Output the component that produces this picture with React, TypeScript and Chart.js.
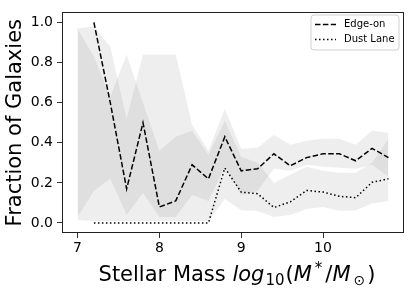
import React, { useEffect, useRef } from "react";
import { Chart, registerables } from "chart.js";

Chart.register(...registerables);

// ---- data ----
const lineX = [7.2, 7.4, 7.6, 7.8, 8.0, 8.2, 8.4, 8.6, 8.8, 9.0, 9.2, 9.4, 9.6, 9.8, 10.0, 10.2, 10.4, 10.6, 10.8];
const edgeOn = [1.0, 0.6, 0.17, 0.5, 0.08, 0.11, 0.29, 0.22, 0.43, 0.26, 0.27, 0.345, 0.285, 0.326, 0.345, 0.345, 0.31, 0.372, 0.326];
const dustLane = [0, 0, 0, 0, 0, 0, 0, 0, 0.274, 0.154, 0.146, 0.077, 0.105, 0.162, 0.154, 0.133, 0.126, 0.203, 0.22];

const bandX = [7.0, 7.2, 7.4, 7.6, 7.8, 8.0, 8.2, 8.4, 8.6, 8.8, 9.0, 9.2, 9.4, 9.6, 9.8, 10.0, 10.2, 10.4, 10.6, 10.8];
const edgeLower = [0.03, 0.16, 0.22, 0.04, 0.15, 0.03, 0.03, 0.14, 0.11, 0.28, 0.14, 0.16, 0.27, 0.26, 0.29, 0.28, 0.275, 0.27, 0.29, 0.23];
const edgeUpper = [0.97, 0.98, 0.88, 0.52, 0.84, 0.84, 0.84, 0.49, 0.36, 0.57, 0.37, 0.375, 0.44, 0.39, 0.41, 0.42, 0.42, 0.39, 0.46, 0.45];
const dustLower = [0.015, 0.01, 0.01, 0.01, 0.01, 0.01, 0.01, 0.01, 0.01, 0.12, 0.064, 0.06, 0.03, 0.04, 0.07, 0.08, 0.06, 0.064, 0.097, 0.11];
const dustUpper = [0.97, 0.83, 0.63, 0.84, 0.6, 0.36, 0.43, 0.46, 0.34, 0.51, 0.33, 0.3, 0.2, 0.24, 0.28, 0.26, 0.25, 0.25, 0.3, 0.42];

const xTicks = [7, 8, 9, 10];
const yTicks = [0.0, 0.2, 0.4, 0.6, 0.8, 1.0];
const seriesLabels = ["Edge-on", "Dust Lane"];
const yTitle = "Fraction of Galaxies";

const FONT = "'DejaVu Sans', sans-serif";
const BAND = "rgba(0,0,0,0.068)";
const EDGE_DASH = [5.5, 2.4];
const DUST_DASH = [1.5, 2.5];

const pts = (xs: number[], ys: number[]) => xs.map((x, i) => ({ x, y: ys[i] }));

const bandLine = (data: any, fill: any) => ({
  data,
  borderColor: "rgba(0,0,0,0)",
  borderWidth: 0,
  backgroundColor: BAND,
  pointRadius: 0,
  fill,
});

const decorPlugin = {
  id: "decor",
  afterDraw(chart: any) {
    const { ctx, chartArea: ca } = chart;
    ctx.save();
    // frame
    ctx.strokeStyle = "#222";
    ctx.lineWidth = 1;
    ctx.setLineDash([]);
    ctx.strokeRect(Math.round(ca.left) + 0.5, Math.round(ca.top) + 0.5, Math.round(ca.right - ca.left) - 1, Math.round(ca.bottom - ca.top) - 1);

    // legend
    const bx = 311, by = 15, bw = 88, bh = 35, r = 3;
    ctx.beginPath();
    ctx.moveTo(bx + r, by);
    ctx.lineTo(bx + bw - r, by);
    ctx.quadraticCurveTo(bx + bw, by, bx + bw, by + r);
    ctx.lineTo(bx + bw, by + bh - r);
    ctx.quadraticCurveTo(bx + bw, by + bh, bx + bw - r, by + bh);
    ctx.lineTo(bx + r, by + bh);
    ctx.quadraticCurveTo(bx, by + bh, bx, by + bh - r);
    ctx.lineTo(bx, by + r);
    ctx.quadraticCurveTo(bx, by, bx + r, by);
    ctx.closePath();
    ctx.fillStyle = "rgba(255,255,255,0.8)";
    ctx.fill();
    ctx.strokeStyle = "#d0d0d0";
    ctx.stroke();

    const rows = [
      { y: 24.5, dash: EDGE_DASH, label: seriesLabels[0] },
      { y: 39.5, dash: DUST_DASH, label: seriesLabels[1] },
    ];
    rows.forEach((row) => {
      ctx.beginPath();
      ctx.setLineDash(row.dash);
      ctx.strokeStyle = "#000";
      ctx.lineWidth = 1.5;
      ctx.moveTo(315, row.y);
      ctx.lineTo(336, row.y);
      ctx.stroke();
      ctx.setLineDash([]);
      ctx.fillStyle = "#000";
      ctx.font = `10px ${FONT}`;
      ctx.textAlign = "left";
      ctx.textBaseline = "middle";
      ctx.fillText(row.label, 344, row.y);
    });

    // y title
    ctx.save();
    ctx.translate(16, (ca.top + ca.bottom) / 2);
    ctx.rotate(-Math.PI / 2);
    ctx.font = `21px ${FONT}`;
    ctx.textAlign = "center";
    ctx.textBaseline = "middle";
    ctx.fillStyle = "#000";
    ctx.fillText(yTitle, 0, 0);
    ctx.restore();

    // x title with math
    const segs = [
      { t: "Stellar Mass ", st: "", sz: 21, dy: 0, kern: 0 },
      { t: "log", st: "italic ", sz: 21, dy: 0, kern: 1 },
      { t: "10", st: "", sz: 15, dy: 4, kern: 1 },
      { t: "(", st: "", sz: 21, dy: 0, kern: 0 },
      { t: "M", st: "italic ", sz: 21, dy: 0, kern: 3 },
      { t: "*", st: "", sz: 15, dy: -8, kern: 3 },
      { t: "/", st: "", sz: 21, dy: 0, kern: 0 },
      { t: "M", st: "italic ", sz: 21, dy: 0, kern: 3 },
      { t: "\u2299", st: "", sz: 14, dy: 4, kern: 2 },
      { t: ")", st: "", sz: 21, dy: 0, kern: 0 },
    ];
    let total = 0;
    const widths = segs.map((s) => {
      ctx.font = `${s.st}${s.sz}px ${FONT}`;
      const w = ctx.measureText(s.t).width + s.kern;
      total += w;
      return w;
    });
    let x = 237 - total / 2;
    ctx.textAlign = "left";
    ctx.textBaseline = "alphabetic";
    segs.forEach((s, i) => {
      ctx.font = `${s.st}${s.sz}px ${FONT}`;
      ctx.fillText(s.t, x, 281 + s.dy);
      x += widths[i];
    });
    ctx.restore();
  },
};

export default function App() {
  const ref = useRef<HTMLCanvasElement>(null);
  useEffect(() => {
    if (!ref.current) return;
    const chart = new Chart(ref.current, {
      type: "line",
      data: {
        datasets: [
          bandLine(pts(bandX, edgeLower), false),
          bandLine(pts(bandX, edgeUpper), "-1"),
          bandLine(pts(bandX, dustLower), false),
          bandLine(pts(bandX, dustUpper), "-1"),
          {
            label: seriesLabels[0],
            data: pts(lineX, edgeOn),
            borderColor: "#000",
            borderWidth: 1.5,
            borderDash: EDGE_DASH,
            pointRadius: 0,
            fill: false,
          },
          {
            label: seriesLabels[1],
            data: pts(lineX, dustLane),
            borderColor: "#000",
            borderWidth: 1.5,
            borderDash: DUST_DASH,
            pointRadius: 0,
            fill: false,
          },
        ] as any,
      },
      options: {
        responsive: false,
        animation: false,
        events: [],
        layout: { padding: { left: 0, top: 10, right: 11, bottom: 0 } },
        plugins: {
          legend: { display: false },
          tooltip: { enabled: false },
          filler: { drawTime: "beforeDatasetsDraw" },
        } as any,
        scales: {
          x: {
            type: "linear",
            min: 6.81,
            max: 10.99,
            afterBuildTicks: (s: any) => {
              s.ticks = xTicks.map((v) => ({ value: v }));
            },
            afterFit: (s: any) => {
              s.height = 58;
            },
            grid: { drawOnChartArea: false, drawTicks: true, tickLength: 5, color: "#333", lineWidth: 1 },
            border: { display: false },
            ticks: {
              font: { family: FONT, size: 14 },
              color: "#000",
              padding: 2,
              maxRotation: 0,
              callback: (v: any) => String(v),
            },
          },
          y: {
            type: "linear",
            min: -0.05,
            max: 1.05,
            afterBuildTicks: (s: any) => {
              s.ticks = yTicks.map((v) => ({ value: v }));
            },
            afterFit: (s: any) => {
              s.width = 62;
            },
            grid: { drawOnChartArea: false, drawTicks: true, tickLength: 5, color: "#333", lineWidth: 1 },
            border: { display: false },
            ticks: {
              font: { family: FONT, size: 14 },
              color: "#000",
              padding: 4,
              callback: (v: any) => Number(v).toFixed(1),
            },
          },
        },
      },
      plugins: [decorPlugin],
    });
    return () => chart.destroy();
  }, []);
  return (
    <div style={{ position: "fixed", left: 0, top: 0, width: 415, height: 291, background: "#fff" }}>
      <canvas ref={ref} width={415} height={291} style={{ display: "block" }} />
    </div>
  );
}
